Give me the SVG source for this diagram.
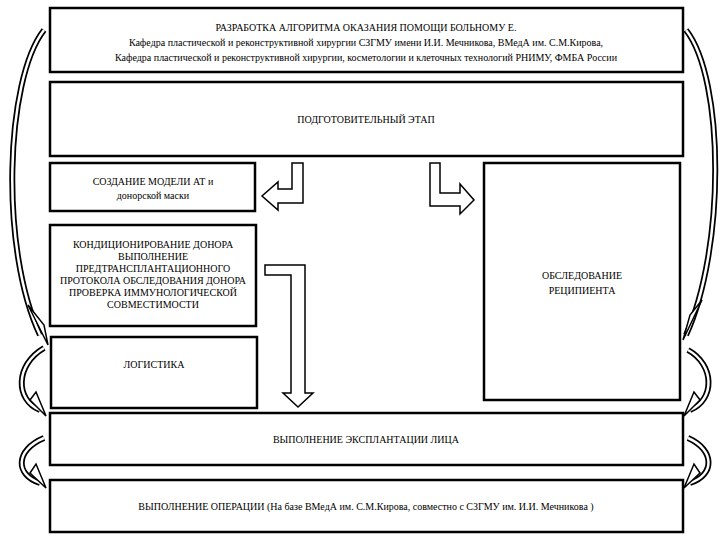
<svg xmlns="http://www.w3.org/2000/svg" width="720" height="540" viewBox="0 0 720 540">
<style>
.b{fill:#fff;stroke:#000;stroke-width:2.5}
text{font-family:'Liberation Serif','Times New Roman','DejaVu Serif',serif;font-size:10px;text-anchor:middle;fill:#000}
.o{fill:none;stroke:#000;stroke-width:6}
.i{fill:none;stroke:#fff;stroke-width:2.5}
.h{fill:#fff;stroke:#000;stroke-width:1.5}
</style>
<rect width="720" height="540" fill="#fff"/>
<g id="n1"><rect class="b" x="50" y="8" width="633" height="64"/>
<text x="366" y="31">РАЗРАБОТКА АЛГОРИТМА ОКАЗАНИЯ ПОМОЩИ БОЛЬНОМУ Е.</text>
<text x="366" y="46">Кафедра пластической и реконструктивной хирургии СЗГМУ имени И.И. Мечникова,  ВМедА им. С.М.Кирова,</text>
<text x="366" y="61">Кафедра пластической и реконструктивной хирургии, косметологии и клеточных технологий РНИМУ, ФМБА России</text></g>
<g id="n2"><rect class="b" x="50" y="82" width="633" height="74"/><text x="366" y="123">ПОДГОТОВИТЕЛЬНЫЙ ЭТАП</text></g>
<g id="n3"><rect class="b" x="50" y="163" width="205" height="48"/><text x="153" y="185">СОЗДАНИЕ МОДЕЛИ  АТ и</text><text x="153" y="199">донорской маски</text></g>
<g id="n4"><rect class="b" x="50" y="225" width="206" height="101"/>
<text x="153" y="248" font-size="9">КОНДИЦИОНИРОВАНИЕ ДОНОРА</text>
<text x="153" y="260" font-size="9">ВЫПОЛНЕНИЕ</text>
<text x="153" y="272" font-size="9">ПРЕДТРАНСПЛАНТАЦИОННОГО</text>
<text x="153" y="284" font-size="9">ПРОТОКОЛА ОБСЛЕДОВАНИЯ ДОНОРА</text>
<text x="153" y="296" font-size="9">ПРОВЕРКА ИММУНОЛОГИЧЕСКОЙ</text>
<text x="153" y="308" font-size="9">СОВМЕСТИМОСТИ</text></g>
<g id="n5"><rect class="b" x="51" y="337" width="206" height="71"/><text x="154" y="368">ЛОГИСТИКА</text></g>
<g id="n6"><rect class="b" x="484" y="163" width="196" height="237"/><text x="582" y="279">ОБСЛЕДОВАНИЕ</text><text x="582" y="294">РЕЦИПИЕНТА</text></g>
<g id="n7"><rect class="b" x="50" y="413" width="633" height="52"/><text x="366" y="443">ВЫПОЛНЕНИЕ ЭКСПЛАНТАЦИИ ЛИЦА</text></g>
<g id="n8"><rect class="b" x="50" y="480" width="633" height="52"/><text x="366" y="510">ВЫПОЛНЕНИЕ ОПЕРАЦИИ (На базе ВМедА им. С.М.Кирова, совместно с СЗГМУ им. И.И. Мечникова )</text></g>
<g id="connectors">
<polygon class="h" points="292,163 303,163 303,203 278,203 278,210 262,196 278,182 278,189 292,189"/>
<polygon class="h" points="430,163 440,163 440,193 460,193 460,184 474,200 460,214 460,206 430,206"/>
<polygon class="h" points="265,265 305,265 305,393 313,393 298,407 283,393 291,393 291,275 265,275"/>
<path class="o" d="M44,30 C5,80 0,250 40,335"/><path class="i" d="M44,30 C5,80 0,250 40,335"/>
<polygon class="h" points="28,305 48,345 44,325"/>
<path class="o" d="M686,30 C725,80 725,250 686,335"/><path class="i" d="M686,30 C725,80 725,250 686,335"/>
<polygon class="h" points="702,300 683,340 690,315"/>
<path class="o" d="M44,348 C15,365 15,400 40,410"/><path class="i" d="M44,348 C15,365 15,400 40,410"/>
<polygon class="h" points="30,400 46,416 36,392"/>
<path class="o" d="M44,438 C15,450 15,475 40,483"/><path class="i" d="M44,438 C15,450 15,475 40,483"/>
<polygon class="h" points="30,473 46,488 36,464"/>
<path class="o" d="M688,350 C715,365 715,400 690,410"/><path class="i" d="M688,350 C715,365 715,400 690,410"/>
<polygon class="h" points="700,400 684,416 694,392"/>
<path class="o" d="M688,438 C715,450 715,475 690,483"/><path class="i" d="M688,438 C715,450 715,475 690,483"/>
<polygon class="h" points="700,473 684,488 694,464"/>
</g>
</svg>
